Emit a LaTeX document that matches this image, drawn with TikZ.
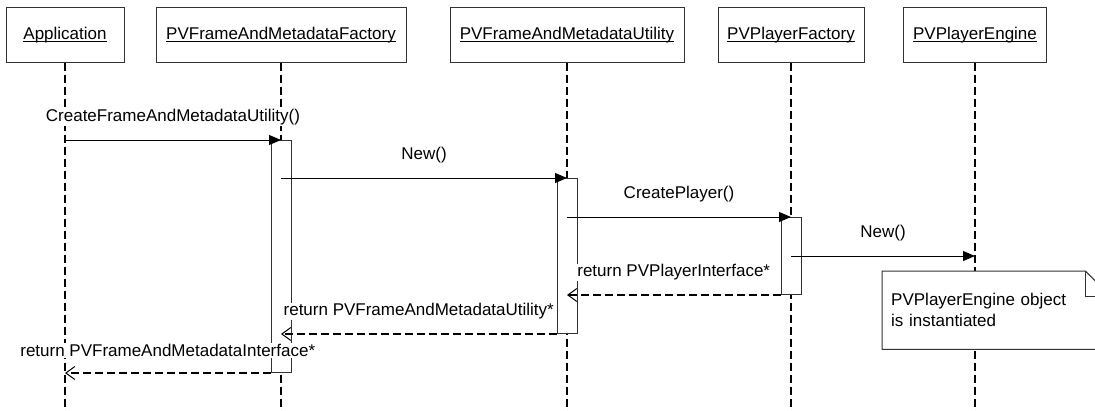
\documentclass[tikz,border=0pt]{standalone}
\usepackage{fontspec}
\setmainfont{Liberation Sans}
\usetikzlibrary{arrows.meta, calc}

\begin{document}
\begin{tikzpicture}[x=1pt, y=-1pt, font=\fontsize{17}{21}\selectfont]
\tikzstyle{head} = [rectangle, minimum height=55pt, inner sep=0pt, text centered, draw=black!80, line width=1pt, fill=white]
\tikzstyle{act} = [rectangle, minimum width=20pt, inner sep=0pt, draw=black!80, line width=1pt, fill=white, anchor=north]
\tikzstyle{lifeline} = [line width=2pt, dash pattern=on 8pt off 4pt]
\tikzstyle{call} = [line width=1pt, -{Triangle[length=12pt, width=10pt]}]
\tikzstyle{ret} = [line width=2pt, dash pattern=on 8pt off 4pt, -{Straight Barb[length=9pt, width=13pt, line width=1pt]}]
\tikzstyle{msg} = [midway, yshift=22.5pt, fill=white, inner sep=1pt]

\useasboundingbox (0,0) rectangle (1095,410);
\clip (0,0) rectangle (1095,410);

% Object Nodes
\node (app) [head, minimum width=118pt] at (65,34.5) {\underbar{Application}};
\node (fac) [head, minimum width=250pt] at (281,34.5) {\underbar{PVFrameAndMetadataFactory}};
\node (util) [head, minimum width=234pt] at (567,34.5) {\underbar{PVFrameAndMetadataUtility}};
\node (pfac) [head, minimum width=146pt] at (791,34.5) {\underbar{PVPlayerFactory}};
\node (eng) [head, minimum width=143pt] at (975,34.5) {\underbar{PVPlayerEngine}};

% Lifelines
\coordinate (bottom) at (0,412);
\draw [lifeline] (app.south) -- (app |- bottom);
\draw [lifeline] (fac.south) -- (fac |- bottom);
\draw [lifeline] (util.south) -- (util |- bottom);
\draw [lifeline] (pfac.south) -- (pfac |- bottom);
\draw [lifeline] (eng.south) -- (eng |- bottom);

% Activation Boxes
\node (actfac) [act, minimum height=232pt] at (fac |- 0,140) {};
\node (actutil) [act, minimum height=155pt] at (util |- 0,178) {};
\node (actpf) [act, minimum height=77pt] at (pfac |- 0,217) {};

% Calls
\draw [call] (app |- actfac.north) -- node[msg] {CreateFrameAndMetadataUtility()} (actfac.north);
\draw [call] (fac |- actutil.north) -- node[msg] {New()} (actutil.north);
\draw [call] (util |- actpf.north) -- node[msg] {CreatePlayer()} (actpf.north);
\coordinate (engnew) at (eng |- 0,256);
\draw [call] (pfac |- engnew) -- node[msg] {New()} (engnew);

% Returns
\draw [ret] (actpf.south west) -- node[msg] {return PVPlayerInterface*} (util |- actpf.south);
\draw [ret] (actutil.south west) -- node[msg] {return PVFrameAndMetadataUtility*} (fac |- actutil.south);
\draw [ret] (actfac.south west) -- node[msg] {return PVFrameAndMetadataInterface*} (app |- actfac.south);

% Note
\node (note) [anchor=north west, fill=white, minimum height=78pt, text width=210pt, inner sep=9pt, align=left] at (882,271) {PVPlayerEngine object\\is instantiated};
\draw [draw=black!80, line width=1pt] (note.north west) -- ([xshift=-25pt]note.north east) -- ([yshift=-25pt]note.north east) -- (note.south east) -- (note.south west) -- cycle;
\draw [draw=black!80, line width=1pt] ([xshift=-25pt]note.north east) |- ([yshift=-25pt]note.north east);

\end{tikzpicture}
\end{document}
